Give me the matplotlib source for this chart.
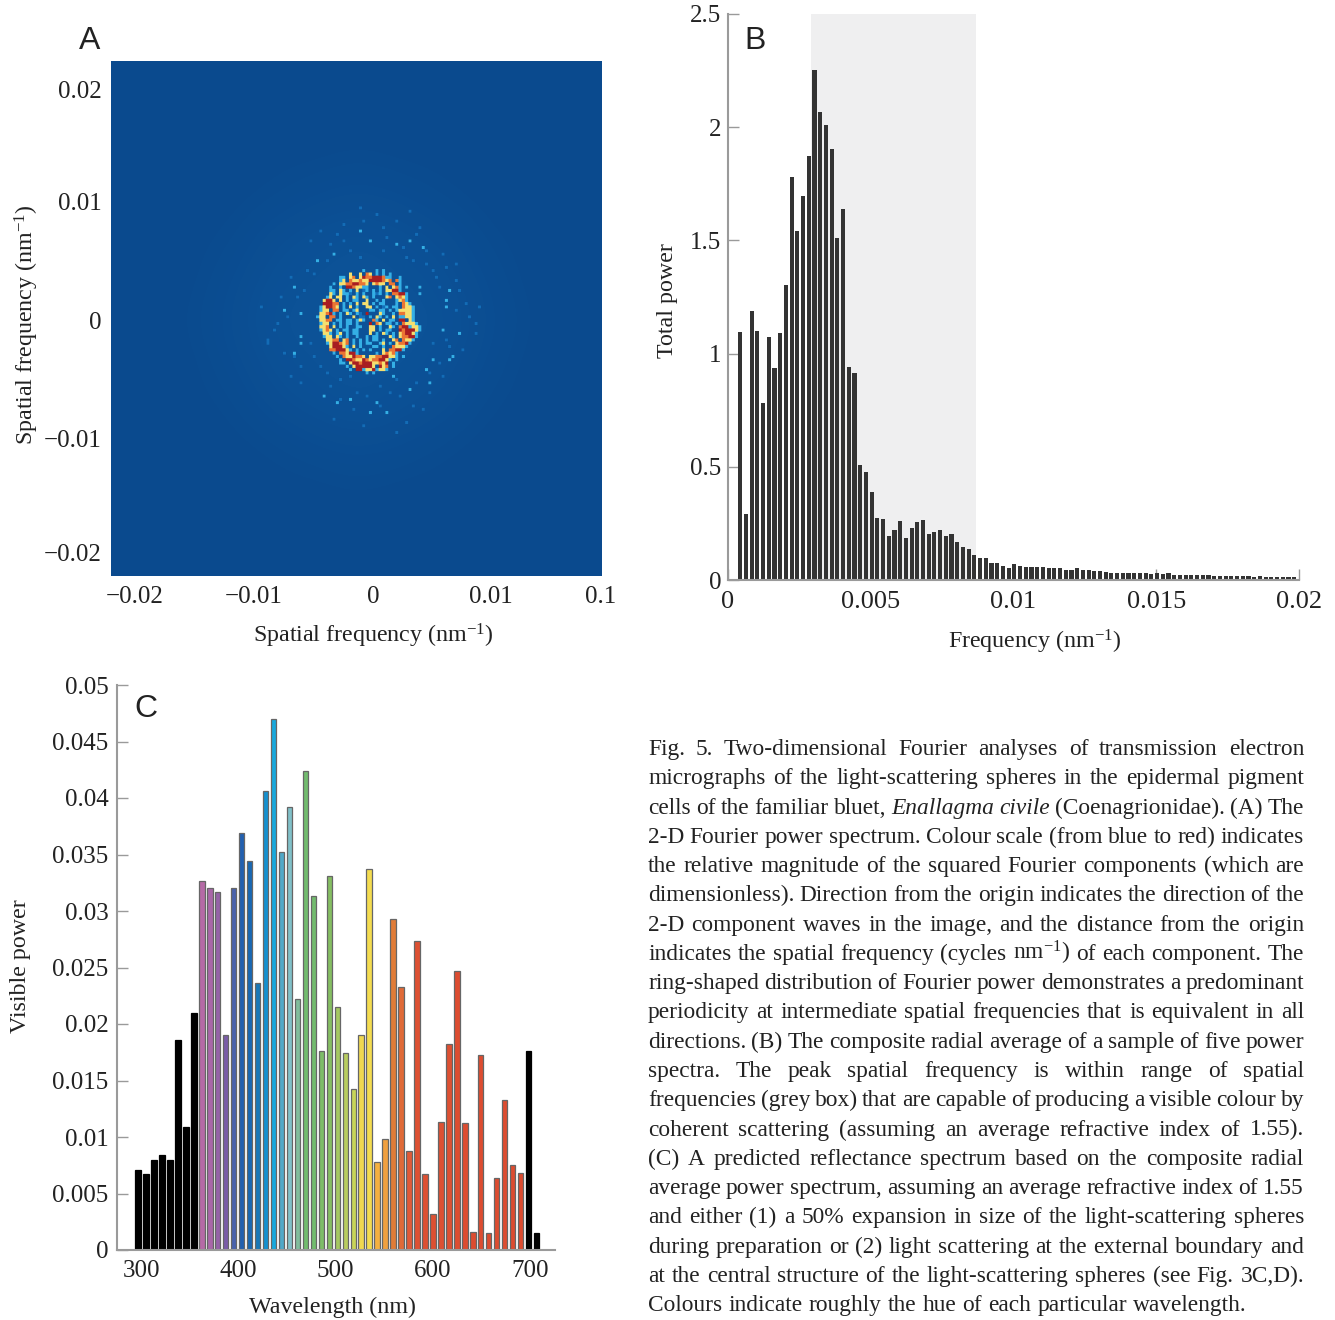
import numpy as np
from matplotlib import pyplot as plt
from matplotlib.colors import LinearSegmentedColormap

plt.rcParams['font.family'] = ['Liberation Serif', 'DejaVu Sans']
plt.rcParams['mathtext.fontset'] = 'custom'
plt.rcParams['mathtext.rm'] = 'Liberation Serif'
plt.rcParams['mathtext.it'] = 'Liberation Serif:italic'
plt.rcParams['mathtext.default'] = 'regular'
plt.rcParams['text.color'] = "#222222"
plt.rcParams['xtick.labelcolor'] = "#222222"
plt.rcParams['ytick.labelcolor'] = "#222222"

W, H = 1335, 1320
LABEL_SIZE = 17.3
GREY = "#9a9a9a"

# panel A: levels of the ring read cell by cell, one character per cell
ring_rows = [
    "..............c...c.c............",
    "..........y..y.oy.c.c.c..........",
    ".......cc.yo.yroorrrocc..c.......",
    ".......cy.oyyoyyrrrroyo.oc.......",
    ".....c.yyoorrooy.yoyy.oo.c.......",
    "....c..c.rroyycc...c.y.yoc.c.....",
    "....cc.yc.c.y.bc.c.c.yyrrc.......",
    "....yc.yccb.c.c..cbc.c.oorrc.....",
    "...cy.yy.c.yc.yc.c...yo.yoyc.....",
    "..yrry.y.c.cc..y..c.c...cyoc.....",
    "..rrroo.c.c.y.yy.c.cc...c.oyc....",
    ".cyrroy.c.y.c..yy.c.bc.cc.oyyc...",
    ".cyy.oo.cc.cy...cc.cc.c.cyyyyc...",
    ".yyorc.c.yc.cb.r...yc..c.ooyyc...",
    "cyy.oo.c...y.bb.c.yc.c.y.ccyyc...",
    ".yyoo.cc.cc.cyc..oc.y.cc.rr.yc...",
    ".cyy.c.c.cc.c...r.oy.cc.c.oyyyc..",
    ".yyo.y.c.c..cc..yy.c..yc.orrcyyc.",
    ".cyoy.c.cc.cc...yy.c.cc..rorrryc.",
    "..yyc.cy.c.cc...y.c.yc.c.yorryc..",
    "..cyy.yc.c..c..c.cc...yc.yoorrc..",
    "...yyoo.yo.c.c.c.cc.c..yo.oyyc...",
    "...cyrroyo.c.c.cc..cy.c.yoorc....",
    "....yrrryc.y.c...cc.c..oyyyc.....",
    "....oorrryc.c.c.c...y.oorrc......",
    ".....c.ooyrrc.....c.yoyoc........",
    "......c.oyyrooy.yyoorryyc.c......",
    ".......c.rroyyroyoorryc.c........",
    ".......cc.yrrorrryyoyr.c.........",
    ".........c.yrrrrry.ryo.c.........",
    "..........c.rrcyyrcyyc...........",
    "...............c.c...............",
]
ring_levels = {'.': np.nan, 'b': 0.22, 'c': 0.42, 'y': 0.65, 'o': 0.82, 'r': 1.0}

# bright specks outside the ring, in units of 0.001 per nm
speck_x = [-1.16, -0.23, 2.0, 3.14, 4.27, -3.28, -4.83, -6.67, -7.43, -6.02, 6.55,
           6.27, 6.27, 5.99, 7.40, -6.24, -6.24, -6.58, 6.81, 6.53, 5.11, 4.55,
           4.83, 3.22, -4.27, -3.14, -2.06, -0.31, 1.16, 0.25, 1.81, 3.92, 3.92]
speck_y = [7.61, 6.75, 6.47, 6.75, 6.13, 5.61, 5.13, 2.85, 0.71, 0.43, 2.42,
           1.57, 1.0, -0.71, -1.0, -1.28, -1.94, -2.74, -3.05, -3.33, -3.33, -4.22,
           -5.27, -5.9, -6.41, -7.07, -6.78, -7.98, -7.92, -7.12, -4.85, 2.71, 2.14]

# dimmer specks of the halo
dim_x = [-5.2, -4.4, -3.7, -2.6, -1.8, -0.7, 0.9, 1.9, 2.7, 3.6, 4.6, 5.4, 6.1, 7.0,
         -7.8, -6.9, -5.6, 5.2, 7.9, 8.6, -8.4, -5.0, -4.0, -2.9, -1.3, 0.6, 2.2,
         3.4, 4.9, 5.8, 6.6, -6.1, -3.3, -0.9, 1.5, 2.9, 4.1, -2.0, 0.2, 3.0,
         -9.4, -8.9, -7.2, -6.4, -5.9, -4.9, -3.9, -2.4, -1.0, 0.8, 1.2, 2.5,
         3.3, 4.4, 5.0, 5.7, 6.9, 7.4, 8.2, 9.1, -9.0, -8.0, -7.4, -6.7, -5.3,
         -4.5, -3.5, -2.7, -1.6, -0.4, 0.5, 1.9, 3.7, 4.7, 5.6, 6.2, 7.7, 8.8,
         -7.0, -6.2, 6.0, 7.1, -1.2, 2.0, -3.0, 4.0]
dim_y = [6.9, 7.7, 6.4, 8.2, 6.0, 8.6, 7.9, 8.4, 5.4, 7.4, 4.9, 3.6, 4.4, 3.3,
         2.0, 3.7, 4.2, -2.0, 1.5, -0.3, -0.9, -3.2, -4.6, -5.2, -6.1, -5.6, -6.6,
         -7.2, -6.1, -4.7, -2.2, -3.9, -8.4, -9.0, -6.3, -8.8, -7.7, -4.9, 9.1, 9.2,
         1.2, -2.1, 0.4, 1.9, 2.6, 3.9, 5.0, 6.7, 5.3, 5.9, 7.0, 6.2,
         5.2, 6.0, 4.2, 2.9, 0.9, 2.6, 0.2, 1.1, -1.6, -0.2, -2.9, -3.0, -1.9,
         -4.0, -5.7, -6.9, -7.6, -6.5, -7.3, -5.1, -5.4, -4.4, -3.6, -1.6, -2.6, -1.2,
         -4.7, -5.3, 5.6, 4.9, 9.7, -9.6, 7.4, 8.0]

# slow glow of the background on a coarse grid
halo_levels = [
    [0, 0, 0, 0, 0, 0, 0, 0, 0, 0, 0, 0, 0],
    [0, 0, 0, 0, 0, 0, 0, 0, 0, 0, 0, 0, 0],
    [0, 0, 0, 0, .005, .005, .01, .005, .005, 0, 0, 0, 0],
    [0, 0, 0, .005, .01, .02, .025, .02, .01, .005, 0, 0, 0],
    [0, 0, .005, .01, .03, .04, .05, .04, .03, .01, .005, 0, 0],
    [0, 0, .005, .02, .04, .05, .05, .05, .04, .02, .005, 0, 0],
    [0, 0, .01, .025, .05, .05, .05, .05, .05, .025, .01, 0, 0],
    [0, 0, .005, .02, .04, .05, .05, .05, .04, .02, .005, 0, 0],
    [0, 0, .005, .01, .03, .04, .05, .04, .03, .01, .005, 0, 0],
    [0, 0, 0, .005, .01, .02, .025, .02, .01, .005, 0, 0, 0],
    [0, 0, 0, 0, .005, .005, .01, .005, .005, 0, 0, 0, 0],
    [0, 0, 0, 0, 0, 0, 0, 0, 0, 0, 0, 0, 0],
    [0, 0, 0, 0, 0, 0, 0, 0, 0, 0, 0, 0, 0],
]

a_xticks = [-0.0202, -0.0101, 0, 0.01, 0.0193]
a_xlabels = ["\u22120.02", "\u22120.01", "0", "0.01", "0.1"]
a_yticks = [-0.0199, -0.0101, 0, 0.0101, 0.0197]
a_ylabels = ["\u22120.02", "\u22120.01", "0", "0.01", "0.02"]

# panel B
total_power = [
    1.097, 0.292, 1.188, 1.098, 0.78, 1.074, 0.937, 1.09, 1.304, 1.779,
    1.541, 1.695, 1.872, 2.254, 2.068, 2.009, 1.905, 1.512, 1.637, 0.94,
    0.915, 0.509, 0.475, 0.388, 0.274, 0.271, 0.195, 0.219, 0.262, 0.186,
    0.231, 0.254, 0.265, 0.204, 0.213, 0.221, 0.195, 0.204, 0.169, 0.146,
    0.139, 0.11, 0.099, 0.099, 0.076, 0.075, 0.064, 0.055, 0.069, 0.062,
    0.058, 0.056, 0.056, 0.056, 0.055, 0.054, 0.052, 0.046, 0.045, 0.052,
    0.044, 0.042, 0.040, 0.040, 0.034, 0.030, 0.030, 0.029, 0.030, 0.030,
    0.029, 0.030, 0.028, 0.029, 0.026, 0.029, 0.024, 0.024, 0.022, 0.022,
    0.021, 0.020, 0.021, 0.019, 0.019, 0.018, 0.018, 0.017, 0.016, 0.018,
    0.015, 0.016, 0.014, 0.015, 0.014, 0.014, 0.013, 0.012,
]
b_xticks = [0, 0.005, 0.01, 0.015, 0.02]
b_xlabels = ["0", "0.005", "0.01", "0.015", "0.02"]
b_yticks = [0, 0.5, 1, 1.5, 2, 2.5]
b_ylabels = ["0", "0.5", "1", "1.5", "2", "2.5"]
visible_band = (0.0029, 0.00868)

# panel C
visible_power = [
    0.00707, 0.00672, 0.00797, 0.00842, 0.00797, 0.01857, 0.0109, 0.02098,
    0.03268, 0.032, 0.03172, 0.01906, 0.032, 0.03686, 0.03445, 0.02359,
    0.04062, 0.04695, 0.03519, 0.03924, 0.02224, 0.04238, 0.03133, 0.01758,
    0.03313, 0.02153, 0.01743, 0.01422, 0.01906, 0.03372, 0.00776, 0.00979,
    0.02929, 0.02324, 0.00873, 0.02737, 0.00676, 0.00319, 0.01136, 0.01826,
    0.02472, 0.01124, 0.00162, 0.01726, 0.0015, 0.00637, 0.01327, 0.00749,
    0.00681, 0.01764, 0.0015,
]
wave_colours = [
    "#000000", "#000000", "#000000", "#000000", "#000000", "#000000", "#000000", "#000000",
    "#b56aa6", "#a966a8", "#9562a8", "#7a5ca8", "#4a62ac", "#2260b0", "#1868b4", "#1878b8",
    "#1490cf", "#18a8dc", "#50a8c8", "#80c0c8", "#80bd9c", "#72bb6e", "#72bb6e", "#7dbd68",
    "#85be62", "#a4c860", "#b8cc60", "#c8d458", "#f0d850", "#f4dc50", "#f4b040", "#f0a040",
    "#e07c38", "#e06a38", "#e05a38", "#dd5032", "#dd5032", "#dd5032", "#dd5032", "#dd5032",
    "#dd4c30", "#dd4c30", "#dd4c30", "#dd4c30", "#dd4c30", "#dd4c30", "#dd4c30", "#dd4c30",
    "#dd4c30", "#000000", "#000000",
]
c_xticks = [300, 400, 500, 600, 700]
c_yticks = [0, 0.005, 0.01, 0.015, 0.02, 0.025, 0.03, 0.035, 0.04, 0.045, 0.05]
c_ylabels = ["0", "0.005", "0.01", "0.015", "0.02", "0.025", "0.03", "0.035", "0.04", "0.045", "0.05"]

caption_lines = [
    "Fig. 5. Two-dimensional Fourier analyses of transmission electron",
    "micrographs of the light-scattering spheres in the epidermal pigment",
    "cells of the familiar bluet, Enallagma civile (Coenagrionidae). (A) The",
    "2-D Fourier power spectrum. Colour scale (from blue to red) indicates",
    "the relative magnitude of the squared Fourier components (which are",
    "dimensionless). Direction from the origin indicates the direction of the",
    "2-D component waves in the image, and the distance from the origin",
    "indicates the spatial frequency (cycles nm$^{-1}$) of each component. The",
    "ring-shaped distribution of Fourier power demonstrates a predominant",
    "periodicity at intermediate spatial frequencies that is equivalent in all",
    "directions. (B) The composite radial average of a sample of five power",
    "spectra. The peak spatial frequency is within range of spatial",
    "frequencies (grey box) that are capable of producing a visible colour by",
    "coherent scattering (assuming an average refractive index of 1.55).",
    "(C) A predicted reflectance spectrum based on the composite radial",
    "average power spectrum, assuming an average refractive index of 1.55",
    "and either (1) a 50% expansion in size of the light-scattering spheres",
    "during preparation or (2) light scattering at the external boundary and",
    "at the central structure of the light-scattering spheres (see Fig. 3C,D).",
    "Colours indicate roughly the hue of each particular wavelength.",
]
italic_words = ["Enallagma", "civile"]


def axes_px(fig, left, top, right, bottom):
    return fig.add_axes([left / W, 1 - bottom / H, (right - left) / W, (bottom - top) / H])


def label_px(fig, x, y, text, **kwargs):
    return fig.text(x / W, 1 - y / H, text, **kwargs)


def plot_spectrum(ax):
    cmap = LinearSegmentedColormap.from_list("power", [
        (0.0, "#0a4a8e"), (0.22, "#1470bb"), (0.42, "#35b0e6"),
        (0.55, "#a8dcc8"), (0.65, "#f6e070"), (0.82, "#ea7434"), (1.0, "#a81e22"),
    ])
    xl, xr, yb, yt = -0.0222, 0.01941, -0.02188, 0.02214
    ax.imshow(np.array(halo_levels), cmap=cmap, vmin=0, vmax=1, extent=(-0.0240, 0.0216, -0.0228, 0.0228),
              interpolation='bicubic', aspect='auto', zorder=1)

    # fine layer over the whole panel: ring in the middle, specks around it
    cell_x, cell_y = 3.3 / 11800, 3.3 / 11700
    nx, ny = int((xr - xl) / cell_x), int((yt - yb) / cell_y)
    fine = np.full((ny, nx), np.nan)
    for x, y in zip(dim_x, dim_y):
        fine[int((yt - y / 1000) / cell_y), int((x / 1000 - xl) / cell_x)] = 0.2
    for x, y in zip(speck_x, speck_y):
        fine[int((yt - y / 1000) / cell_y), int((x / 1000 - xl) / cell_x)] = 0.42
    col0 = int((-0.00017 - xl) / cell_x) - 16
    row0 = int((yt + 0.00021) / cell_y) - 16
    for i, row in enumerate(ring_rows):
        for j, ch in enumerate(row):
            if ch != '.':
                fine[row0 + i, col0 + j] = ring_levels[ch]

    # repeat the cells so that the bilinear blur stays narrower than a cell
    rgba = cmap(np.nan_to_num(fine))
    rgba[..., 3] = np.where(np.isnan(fine), 0, 1)
    rgba = np.repeat(np.repeat(rgba, 3, axis=0), 3, axis=1)
    ax.imshow(rgba, extent=(xl, xl + nx * cell_x, yt - ny * cell_y, yt), interpolation='bilinear',
              aspect='auto', zorder=2)

    ax.set_xlim(xl, xr)
    ax.set_ylim(yb, yt)
    ax.set_xticks(a_xticks, a_xlabels)
    ax.set_yticks(a_yticks, a_ylabels)
    ax.tick_params(length=0, labelsize=18, pad=7)
    for spine in ax.spines.values():
        spine.set_visible(False)


def plot_power(ax):
    freq = 0.00043 + 0.0002 * np.arange(len(total_power))
    ax.axvspan(visible_band[0], visible_band[1], color="#efeff0", linewidth=0, zorder=0)
    ax.bar(freq, total_power, width=0.000145, color="#333333", linewidth=0, zorder=2)
    ax.set_xlim(0, 0.02)
    ax.set_ylim(0, 2.5)
    ax.set_xticks(b_xticks, b_xlabels)
    ax.set_yticks(b_yticks, b_ylabels)
    ax.tick_params(direction='in', length=8, width=1, color=GREY, labelsize=18, pad=5)
    ax.tick_params(axis='x', labelsize=19, pad=8)
    style_spines(ax)


def plot_visible(ax):
    wavelength = 297 + 8.2 * np.arange(len(visible_power))
    edges = ["#000000" if c == "#000000" else "#666666" for c in wave_colours]
    ax.bar(wavelength, visible_power, width=5.6, color=wave_colours, edgecolor=edges, linewidth=0.9)
    ax.set_xlim(275.3, 726)
    ax.set_ylim(0, 0.05)
    ax.set_xticks(c_xticks)
    ax.set_yticks(c_yticks, c_ylabels)
    ax.tick_params(direction='in', length=8, width=1, color=GREY, labelsize=18, pad=6)
    ax.tick_params(axis='x', length=0, pad=7)
    style_spines(ax)


def style_spines(ax):
    ax.spines['top'].set_visible(False)
    ax.spines['right'].set_visible(False)
    for side in ['left', 'bottom']:
        ax.spines[side].set_color(GREY)
        ax.spines[side].set_linewidth(1.5)


def draw_caption(fig, renderer, left=648, right=1304, first=755, step=29.27, size=16.8):
    for n, line in enumerate(caption_lines):
        y = first + n * step
        words = line.split(" ")
        items = []
        for word in words:
            style = 'italic' if word in italic_words else 'normal'
            items.append(label_px(fig, left, y, word, fontsize=size, fontstyle=style,
                                  va='baseline', ha='left'))
        widths = [t.get_window_extent(renderer).width for t in items]
        if n == len(caption_lines) - 1:
            gap = 6.2
        else:
            gap = (right - left - sum(widths)) / (len(words) - 1)
        x = left
        for t, w in zip(items, widths):
            t.set_x(x / W)
            x += w + gap


fig = plt.figure(figsize=(W / 100, H / 100), dpi=100)

ax_a = axes_px(fig, 111, 61, 602, 576)
plot_spectrum(ax_a)
ax_b = axes_px(fig, 728, 14, 1299, 580)
plot_power(ax_b)
ax_c = axes_px(fig, 117, 685, 555, 1250)
plot_visible(ax_c)

label_px(fig, 373, 636, "Spatial frequency (nm$^{-1}$)", fontsize=LABEL_SIZE, ha='center', va='center')
label_px(fig, 27, 325, "Spatial frequency (nm$^{-1}$)", fontsize=LABEL_SIZE, ha='center', va='center', rotation=90)
label_px(fig, 1035, 642, "Frequency (nm$^{-1}$)", fontsize=LABEL_SIZE, ha='center', va='center')
label_px(fig, 668, 301, "Total power", fontsize=LABEL_SIZE, ha='center', va='center', rotation=90)
label_px(fig, 332, 1307, "Wavelength (nm)", fontsize=LABEL_SIZE, ha='center', va='center')
label_px(fig, 21, 966, "Visible power", fontsize=LABEL_SIZE, ha='center', va='center', rotation=90)

for letter, x, y in [("A", 90, 41), ("B", 755, 41), ("C", 146, 709)]:
    label_px(fig, x, y, letter, fontsize=23, family='Liberation Sans', ha='center', va='center')

fig.canvas.draw()
draw_caption(fig, fig.canvas.get_renderer())

fig.savefig("out.png", dpi=100)
